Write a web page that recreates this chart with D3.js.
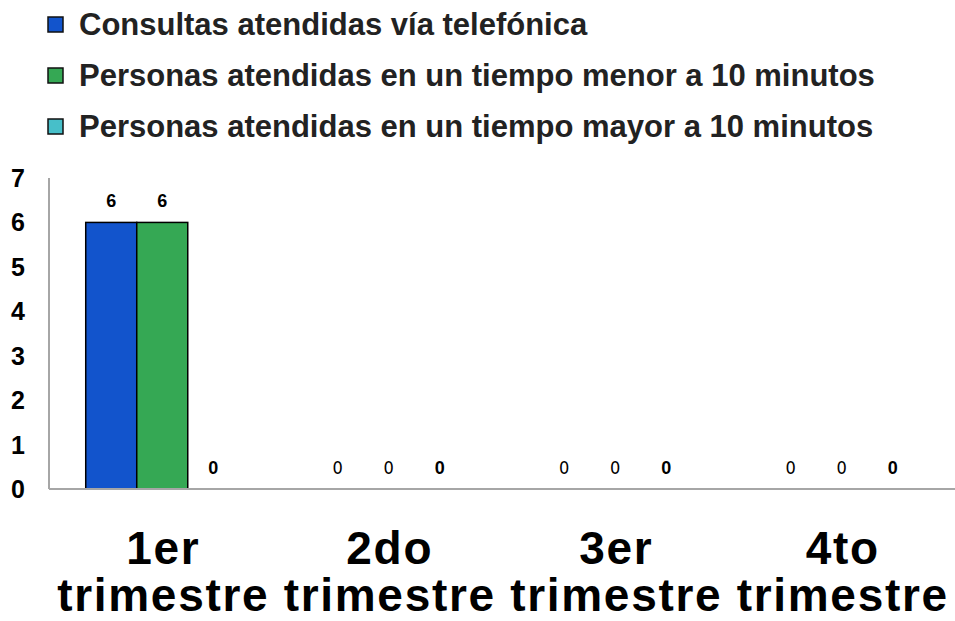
<!DOCTYPE html>
<html>
<head>
<meta charset="utf-8">
<title>Consultas atendidas</title>
<script src="https://d3js.org/d3.v7.min.js"></script>
<style>
  body { margin: 0; background: #fff; }
  text { font-family: "Liberation Sans", Arial, sans-serif; }
</style>
</head>
<body>
<div id="chart"></div>
<script>

// data
const quarters = ["1er trimestre", "2do trimestre", "3er trimestre", "4to trimestre"];
const seriesNames = [
  "Consultas atendidas vía telefónica",
  "Personas atendidas en un tiempo menor a 10 minutos",
  "Personas atendidas en un tiempo mayor a 10 minutos"
];
const consultas = [6, 0, 0, 0];
const menor10 = [6, 0, 0, 0];
const mayor10 = [0, 0, 0, 0];
const yTicks = [0, 1, 2, 3, 4, 5, 6, 7];

const colours = ["#1254cc", "#35a854", "#47bfc9"];
const values = [consultas, menor10, mayor10];

const width = 955, height = 621;

const svg = d3.select("#chart")
  .append("svg")
    .attr("width", width)
    .attr("height", height);

// scales
var x = d3.scaleBand()
  .domain(quarters)
  .range([49, 955]);

var xSub = d3.scaleBand()
  .domain(d3.range(seriesNames.length))
  .range([0, x.bandwidth()])
  .paddingOuter(0.72);

var y = d3.scaleLinear()
  .domain([0, 7])
  .range([489, 178]);

// legend
var legend = svg.append("g")
  .selectAll("g")
  .data(seriesNames)
  .join("g")
    .attr("transform", function(d, i) { return "translate(48," + (24 + i * 51) + ")"; });

legend.append("rect")
  .attr("x", 0)
  .attr("y", -7)
  .attr("width", 15)
  .attr("height", 15)
  .attr("fill", function(d, i) { return colours[i]; })
  .attr("stroke", "#111")
  .attr("stroke-width", 1.5);

legend.append("text")
  .attr("x", 31)
  .attr("y", 11)
  .attr("font-size", 31)
  .attr("font-weight", "bold")
  .attr("fill", "#222")
  .text(function(d) { return d; });

// y axis (labels only + grey line)
svg.append("line")
  .attr("x1", 49).attr("x2", 49)
  .attr("y1", y(7)).attr("y2", y(0))
  .attr("stroke", "#a6a6a6")
  .attr("stroke-width", 2);

svg.append("g")
  .selectAll("text")
  .data(yTicks)
  .join("text")
    .attr("x", 18)
    .attr("y", function(d) { return y(d) + 9; })
    .attr("text-anchor", "middle")
    .attr("font-size", 25)
    .attr("font-weight", "bold")
    .attr("fill", "#000")
    .text(function(d) { return d; });

// bars
var groups = svg.append("g")
  .selectAll("g")
  .data(quarters)
  .join("g")
    .attr("transform", function(d) { return "translate(" + x(d) + ",0)"; });

groups.selectAll("rect")
  .data(function(d, qi) { return values.map(function(s, si) { return {si: si, v: s[qi]}; }); })
  .join("rect")
    .filter(function(d) { return d.v > 0; })
    .attr("x", function(d) { return xSub(d.si); })
    .attr("y", function(d) { return y(d.v); })
    .attr("width", xSub.bandwidth())
    .attr("height", function(d) { return y(0) - y(d.v); })
    .attr("fill", function(d) { return colours[d.si]; })
    .attr("stroke", "#000")
    .attr("stroke-width", 1.5);

// data labels (Excel left some of them bold, some not)
groups.selectAll("text")
  .data(function(d, qi) { return values.map(function(s, si) { return {si: si, qi: qi, v: s[qi]}; }); })
  .join("text")
    .attr("x", function(d) { return xSub(d.si) + xSub.bandwidth() / 2; })
    .attr("y", function(d) { return y(d.v) - 15; })
    .attr("text-anchor", "middle")
    .attr("font-size", 18)
    .attr("font-weight", function(d) { return (d.qi === 0 || d.si === 2) ? "bold" : "normal"; })
    .attr("font-stretch", function(d) { return (d.qi === 0 || d.si === 2) ? "normal" : "condensed"; })
    .style("font-family", function(d) {
      return (d.qi === 0 || d.si === 2) ? null : "'Liberation Sans Narrow', 'DejaVu Sans Condensed', 'Liberation Sans', sans-serif";
    })
    .attr("fill", "#000")
    .text(function(d) { return d.v; });

// x axis line
svg.append("line")
  .attr("x1", 49).attr("x2", 955)
  .attr("y1", y(0)).attr("y2", y(0))
  .attr("stroke", "#a6a6a6")
  .attr("stroke-width", 2);

// category labels, two lines
var cat = svg.append("g")
  .selectAll("text")
  .data(quarters)
  .join("text")
    .attr("x", function(d) { return x(d) + x.bandwidth() / 2 + 1; })
    .attr("text-anchor", "middle")
    .attr("font-size", 46)
    .attr("font-weight", "bold")
    .attr("letter-spacing", 1.7)
    .attr("fill", "#000");

cat.append("tspan")
  .attr("x", function(d) { return x(d) + x.bandwidth() / 2 + 1; })
  .attr("y", 564)
  .text(function(d) { return d.split(" ")[0]; });

cat.append("tspan")
  .attr("x", function(d) { return x(d) + x.bandwidth() / 2 + 1; })
  .attr("y", 611)
  .text(function(d) { return d.split(" ")[1]; });

</script>
</body>
</html>
